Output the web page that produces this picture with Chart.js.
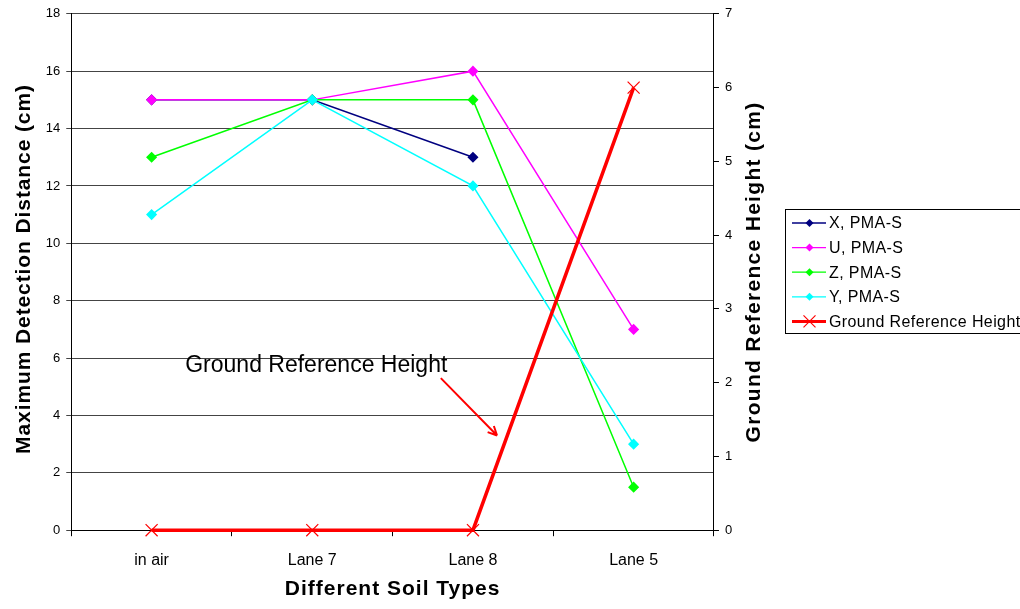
<!DOCTYPE html>
<html>
<head>
<meta charset="utf-8">
<script src="https://cdn.jsdelivr.net/npm/chart.js@4/dist/chart.umd.min.js"></script>
<style>
  html, body { margin: 0; padding: 0; background: #fff; }
  #wrap { width: 1020px; height: 609px; position: relative; }
</style>
</head>
<body>
<div id="wrap"><canvas id="chart"></canvas></div>
<script>
// Detection distance per soil type, with the ground reference height on the right axis.

const SOILS = ["in air", "Lane 7", "Lane 8", "Lane 5"];
const X_PMA = [15, 15, 13, null];
const U_PMA = [15, 15, 16, 7];
const Z_PMA = [13, 15, 15, 1.5];
const Y_PMA = [11, 15, 12, 3];
const GROUND_HEIGHT = [0, 0, 0, 6];

const FONT = "'Liberation Sans', Arial, sans-serif";
const X_TITLE = "Different Soil Types";
const LEFT_TITLE = "Maximum Detection Distance (cm)";
const RIGHT_TITLE = "Ground Reference Height (cm)";
const NOTE = "Ground Reference Height";

// later series sit on top, so the order value counts down
function series(label, data, color, order) {
  return {
    label, data, order,
    borderColor: color,
    backgroundColor: color,
    borderWidth: 1.5,
    pointStyle: "rectRot",
    pointRadius: 4.5,
    pointHoverRadius: 4.5,
    tension: 0,
    spanGaps: false,
    clip: false,
    yAxisID: "y",
  };
}

const datasets = [
  series("X, PMA-S", X_PMA, "#000080", 5),
  series("U, PMA-S", U_PMA, "#ff00ff", 4),
  series("Z, PMA-S", Z_PMA, "#00ff00", 3),
  series("Y, PMA-S", Y_PMA, "#00ffff", 2),
  {
    label: "Ground Reference Height",
    data: GROUND_HEIGHT,
    order: 1,
    borderColor: "#ff0000",
    backgroundColor: "#ff0000",
    borderWidth: 3.5,
    pointStyle: "crossRot",
    pointRadius: 8.5,
    pointBorderWidth: 1.2,
    pointHoverRadius: 8.5,
    tension: 0,
    clip: false,
    yAxisID: "y2",
  },
];

// legend box at the right, drawn straight onto the canvas
const sideLegend = {
  id: "sideLegend",
  afterDraw(chart) {
    const ctx = chart.ctx;
    const x0 = 785, y0 = 209, w = 240, h = 124, rowH = 24.6;
    ctx.save();
    ctx.strokeStyle = "#000";
    ctx.lineWidth = 1;
    ctx.strokeRect(x0 + 0.5, y0 + 0.5, w, h);
    ctx.font = "16px " + FONT;
    ctx.letterSpacing = "0.4px";
    ctx.textBaseline = "middle";
    chart.data.datasets.forEach((ds, i) => {
      const cy = y0 + 14 + i * rowH;
      const isGround = ds.yAxisID === "y2";
      ctx.strokeStyle = ds.borderColor;
      ctx.lineWidth = isGround ? 3 : 1.3;
      ctx.beginPath();
      ctx.moveTo(x0 + 7, cy);
      ctx.lineTo(x0 + 41, cy);
      ctx.stroke();
      ctx.fillStyle = ds.borderColor;
      ctx.lineWidth = 1.2;
      ctx.beginPath();
      if (isGround) {
        const r = 6;
        ctx.moveTo(x0 + 24.5 - r, cy - r); ctx.lineTo(x0 + 24.5 + r, cy + r);
        ctx.moveTo(x0 + 24.5 + r, cy - r); ctx.lineTo(x0 + 24.5 - r, cy + r);
        ctx.stroke();
      } else {
        const r = 4;
        ctx.moveTo(x0 + 24.5, cy - r); ctx.lineTo(x0 + 24.5 + r, cy);
        ctx.lineTo(x0 + 24.5, cy + r); ctx.lineTo(x0 + 24.5 - r, cy);
        ctx.closePath();
        ctx.fill();
      }
      ctx.fillStyle = "#000";
      ctx.fillText(ds.label, x0 + 44, cy + 1);
    });
    ctx.restore();
  },
};

// axis titles drawn by hand: both vertical ones read bottom-to-top
function drawTitle(ctx, text, x, y, rot, spacing) {
  ctx.save();
  ctx.translate(x, y);
  ctx.rotate(rot);
  ctx.font = "bold 21px " + FONT;
  ctx.letterSpacing = spacing + "px";
  ctx.fillStyle = "#000";
  ctx.textAlign = "center";
  ctx.textBaseline = "alphabetic";
  ctx.fillText(text, 0, 0);
  ctx.restore();
}

const axisTitles = {
  id: "axisTitles",
  afterDraw(chart) {
    const ctx = chart.ctx;
    const area = chart.chartArea;
    const midY = (area.top + area.bottom) / 2;
    drawTitle(ctx, X_TITLE, (area.left + area.right) / 2, 595, 0, 1);
    drawTitle(ctx, LEFT_TITLE, 30, midY - 3, -Math.PI / 2, 0.9);
    drawTitle(ctx, RIGHT_TITLE, chart.scales.y2.left + 46, midY, -Math.PI / 2, 1.3);
  },
};

// text label and pointer arrow for the ground reference line
const groundNote = {
  id: "groundNote",
  afterDatasetsDraw(chart) {
    const ctx = chart.ctx;
    const xs = chart.scales.x;
    const ys = chart.scales.y;
    ctx.save();
    ctx.font = "23px " + FONT;
    ctx.fillStyle = "#000";
    ctx.textBaseline = "alphabetic";
    ctx.textAlign = "center";
    ctx.fillText(NOTE, (xs.getPixelForValue(0) + xs.getPixelForValue(2)) / 2 + 4, ys.getPixelForValue(5.5));
    const ax = xs.getPixelForValue(1.8), ay = ys.getPixelForValue(5.3);
    const bx = xs.getPixelForValue(2.15), by = ys.getPixelForValue(3.3);
    ctx.strokeStyle = "#ff0000";
    ctx.lineWidth = 2;
    ctx.beginPath();
    ctx.moveTo(ax, ay);
    ctx.lineTo(bx, by);
    const ang = Math.atan2(by - ay, bx - ax);
    const len = 10;
    ctx.moveTo(bx, by);
    ctx.lineTo(bx - len * Math.cos(ang - 0.45), by - len * Math.sin(ang - 0.45));
    ctx.moveTo(bx, by);
    ctx.lineTo(bx - len * Math.cos(ang + 0.45), by - len * Math.sin(ang + 0.45));
    ctx.stroke();
    ctx.restore();
  },
};

const hidden = "rgba(0,0,0,0)";

new Chart(document.getElementById("chart"), {
  type: "line",
  data: { labels: SOILS, datasets },
  plugins: [groundNote, sideLegend, axisTitles],
  options: {
    responsive: true,
    maintainAspectRatio: false,
    animation: false,
    layout: { padding: { left: 1, right: 245, top: 9, bottom: 0 } },
    plugins: {
      legend: { display: false },
      tooltip: { enabled: false },
    },
    scales: {
      x: {
        offset: true,
        grid: {
          offset: true,
          drawOnChartArea: false,
          color: "#000",
          tickLength: 6,
        },
        border: { color: "#000", width: 1 },
        ticks: { color: "#000", font: { family: FONT, size: 16 }, padding: 15 },
        title: {
          display: true,
          text: X_TITLE,
          color: hidden,
          font: { family: FONT, size: 18, weight: "bold" },
          padding: { top: 0, bottom: 2 },
        },
      },
      y: {
        position: "left",
        min: 0, max: 18,
        ticks: { stepSize: 2, color: "#000", font: { family: FONT, size: 13 }, padding: 6 },
        grid: { color: "#444", lineWidth: 1, tickLength: 5 },
        border: { color: "#000", width: 1 },
        title: {
          display: true,
          text: LEFT_TITLE,
          color: hidden,
          font: { family: FONT, size: 19, weight: "bold" },
          padding: { bottom: 12 },
        },
      },
      y2: {
        position: "right",
        min: 0, max: 7,
        ticks: { stepSize: 1, color: "#000", font: { family: FONT, size: 13 }, padding: 6 },
        grid: { drawOnChartArea: false, color: "#000", tickLength: 5 },
        border: { color: "#000", width: 1 },
        title: {
          display: true,
          text: RIGHT_TITLE,
          color: hidden,
          font: { family: FONT, size: 19, weight: "bold" },
          padding: { top: 10 },
        },
      },
    },
  },
});
</script>
</body>
</html>
